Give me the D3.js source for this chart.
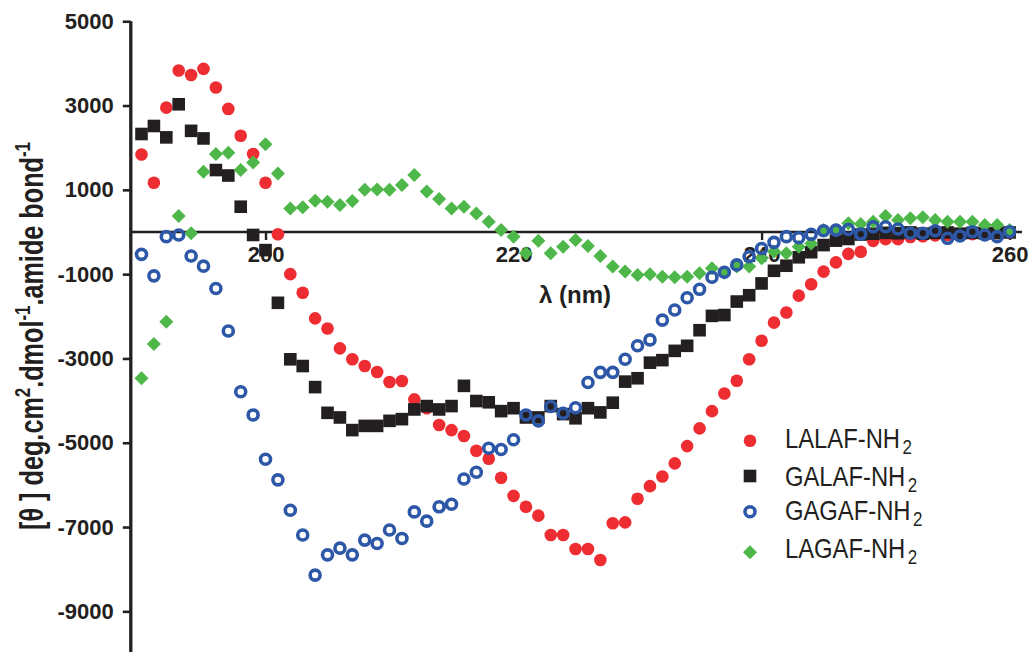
<!DOCTYPE html>
<html>
<head>
<meta charset="utf-8">
<script src="https://cdn.jsdelivr.net/npm/d3@7"></script>
<style>
  html, body { margin: 0; padding: 0; background: #fff; }
  svg { display: block; }
  text { font-family: "Liberation Sans", Arial, Helvetica, sans-serif; fill: #231F20; }
</style>
</head>
<body>
<svg id="chart" width="1034" height="652"></svg>
<script>
// ---- data (wavelength in nm, mean residue ellipticity) ----
const wavelengths = [190,191,192,193,194,195,196,197,198,199,200,201,202,203,204,205,206,207,208,209,210,211,212,213,214,215,216,217,218,219,220,221,222,223,224,225,226,227,228,229,230,231,232,233,234,235,236,237,238,239,240,241,242,243,244,245,246,247,248,249,250,251,252,253,254,255,256,257,258,259,260];

const LALAF = [1840,1170,2950,3830,3725,3870,3430,2920,2285,1850,1170,-55,-1000,-1440,-2050,-2290,-2760,-3020,-3180,-3320,-3560,-3535,-3970,-4180,-4580,-4700,-4840,-5190,-5380,-5830,-6260,-6520,-6730,-7190,-7190,-7520,-7520,-7780,-6910,-6890,-6330,-6030,-5800,-5490,-5080,-4660,-4250,-3830,-3530,-3020,-2580,-2150,-1910,-1510,-1240,-940,-720,-520,-470,-210,-170,-170,-120,-100,-80,-70,-60,-50,-40,-30,-20];

const GALAF = [2325,2515,2245,3030,2400,2220,1470,1340,600,-70,-430,-1680,-3020,-3180,-3680,-4290,-4400,-4700,-4600,-4600,-4480,-4440,-4210,-4130,-4210,-4130,-3650,-4010,-4040,-4250,-4180,-4400,-4400,-4130,-4320,-4420,-4180,-4280,-4050,-3550,-3470,-3100,-3040,-2820,-2700,-2330,-1990,-1970,-1650,-1500,-1220,-920,-800,-600,-480,-310,-205,-165,-60,-40,-20,-30,-10,-40,-20,-10,-40,-20,-30,-20,-10];

const GAGAF = [-530,-1040,-110,-70,-570,-810,-1340,-2350,-3790,-4340,-5390,-5880,-6600,-7190,-8140,-7660,-7500,-7660,-7310,-7390,-7070,-7270,-6640,-6860,-6520,-6460,-5860,-5700,-5130,-5160,-4930,-4340,-4480,-4140,-4300,-4170,-3570,-3330,-3330,-3020,-2700,-2560,-2090,-1850,-1560,-1360,-1075,-955,-780,-585,-390,-245,-110,-135,-55,30,45,60,-50,125,125,70,-30,-30,30,-150,-95,5,-70,-110,5];

const LAGAF = [-3470,-2660,-2130,380,-30,1430,1850,1880,1470,1650,2080,1390,560,590,740,720,640,735,1000,1010,1000,1115,1350,960,780,560,600,440,245,50,-110,-505,-205,-505,-350,-190,-330,-570,-820,-940,-1020,-1000,-1060,-1075,-1060,-980,-860,-965,-820,-820,-625,-465,-505,-350,-270,45,45,205,190,245,380,285,325,350,285,245,245,245,165,165,45];

const xTicks = [200, 220, 240, 260];
const yTicks = [5000, 3000, 1000, -1000, -3000, -5000, -7000, -9000];
const seriesNames = ["LALAF", "GALAF", "GAGAF", "LAGAF"];
const seriesValues = [LALAF, GALAF, GAGAF, LAGAF];
const seriesColors = ["#EE2D33", "#231F20", "#2D57A7", "#4DB749"];

// ---- layout ----
const svg = d3.select("#chart");
const x = d3.scaleLinear().domain([189.25, 261]).range([132.2, 1022]);
const y = d3.scaleLinear().domain([-10000, 5000]).range([653.5, 21.25]);
const axisX = 130.8;

// y axis
const yAxis = svg.append("g").attr("transform", `translate(${axisX},0)`)
  .call(d3.axisLeft(y).tickValues(yTicks).tickSize(8).tickPadding(9).tickFormat(d3.format("d")));
yAxis.select(".domain").attr("d", `M0,${y(5000)}V${y(-10000)}`).attr("stroke", "#231F20").attr("stroke-width", 3.3);
yAxis.selectAll(".tick line").attr("stroke", "#231F20").attr("stroke-width", 2.6);
yAxis.selectAll(".tick text").attr("font-size", 22).attr("font-weight", "bold")
  .attr("font-family", '"Liberation Sans", Arial, sans-serif').attr("fill", "#231F20")
  .text(d => d < 0 ? "-" + Math.abs(d) : d);

// x axis at zero
const xAxis = svg.append("g").attr("transform", `translate(0,${y(0)})`)
  .call(d3.axisBottom(x).tickValues(xTicks).tickSize(8).tickPadding(6).tickFormat(d3.format("d")));
xAxis.select(".domain").attr("d", `M${axisX},0H${x(261)}`).attr("stroke", "#231F20").attr("stroke-width", 2.6);
xAxis.selectAll(".tick line").attr("stroke", "#231F20").attr("stroke-width", 2.4);
xAxis.selectAll(".tick text").attr("font-size", 22).attr("font-weight", "bold")
  .attr("font-family", '"Liberation Sans", Arial, sans-serif').attr("fill", "#231F20");

// x title
svg.append("text").attr("x", 575).attr("y", 303).attr("text-anchor", "middle")
  .attr("font-size", 24).attr("font-weight", "bold").text("λ (nm)");

// y title (condensed, rotated)
const yt = svg.append("g").attr("transform", "translate(43,336) rotate(-90)");
const ytText = yt.append("text").attr("text-anchor", "middle").attr("font-size", 33).attr("font-weight", "bold");
ytText.append("tspan").text("[θ ] deg.cm");
ytText.append("tspan").attr("font-size", 22).attr("dy", -13).text("2");
ytText.append("tspan").attr("dy", 13).text(".dmol");
ytText.append("tspan").attr("font-size", 22).attr("dy", -13).text("-1");
ytText.append("tspan").attr("dy", 13).text(".amide bond");
ytText.append("tspan").attr("font-size", 22).attr("dy", -13).text("-1");
const ytLen = ytText.node().getComputedTextLength();
ytText.attr("transform", `scale(${388 / ytLen},1)`);

// ---- markers ----
const symGen = {
  LALAF: (g, cx, cy, c) => g.append("circle").attr("cx", cx).attr("cy", cy).attr("r", 6.3).attr("fill", c),
  GALAF: (g, cx, cy, c) => g.append("rect").attr("x", cx - 6.3).attr("y", cy - 6.3).attr("width", 12.6).attr("height", 12.6).attr("fill", c),
  GAGAF: (g, cx, cy, c) => g.append("circle").attr("cx", cx).attr("cy", cy).attr("r", 5.0).attr("fill", "none").attr("stroke", c).attr("stroke-width", 3.6),
  LAGAF: (g, cx, cy, c) => g.append("path").attr("d", `M${cx},${cy - 7}L${cx + 7},${cy}L${cx},${cy + 7}L${cx - 7},${cy}Z`).attr("fill", c)
};

// draw order: red, black, green, blue (top)
const drawOrder = [0, 1, 3, 2];
drawOrder.forEach(i => {
  const name = seriesNames[i], vals = seriesValues[i], col = seriesColors[i];
  const g = svg.append("g").attr("class", "series-" + name);
  wavelengths.forEach((w, j) => symGen[name](g, x(w), y(vals[j]), col));
});

// ---- legend ----
const legendSymY = [440.7, 476, 511.7, 552.3];
const legendTextY = [448, 485.5, 520, 558];
const legend = svg.append("g");
seriesNames.forEach((name, i) => {
  symGen[name](legend, 750, legendSymY[i], seriesColors[i]);
  const t = legend.append("text").attr("x", 0).attr("y", 0)
    .attr("transform", `translate(785,${legendTextY[i]}) scale(0.85,1)`)
    .attr("font-size", 28);
  t.append("tspan").text(name + "-NH");
  t.append("tspan").attr("font-size", 20).attr("dx", 3).attr("dy", 6).text("2");
});
</script>
</body>
</html>
